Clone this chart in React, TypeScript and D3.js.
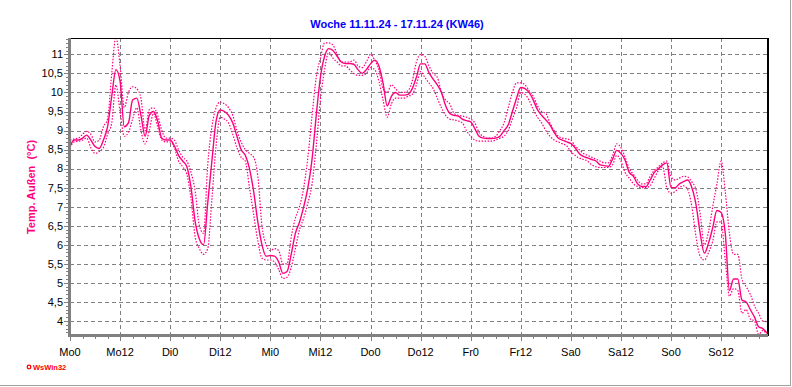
import React from 'react';
import * as d3 from 'd3';

const W = 792;
const H = 387;
const M = { left: 70, right: 767, top: 38, bottom: 336 };
const PINK = '#ff0080';
const FONT = 'Liberation Sans, Arial, sans-serif';

const TITLE = 'Woche 11.11.24 - 17.11.24 (KW46)';
const Y_LABEL = 'Temp. Außen  (°C)';

// Beschriftung der x-Achse, alle 12 Stunden
const X_LABELS = ['Mo0', 'Mo12', 'Di0', 'Di12', 'Mi0', 'Mi12', 'Do0', 'Do12', 'Fr0', 'Fr12', 'Sa0', 'Sa12', 'So0', 'So12'];
const Y_TICKS = [4, 4.5, 5, 5.5, 6, 6.5, 7, 7.5, 8, 8.5, 9, 9.5, 10, 10.5, 11];

// Stundenwerte Mo 0 Uhr bis So 23 Uhr (12 Werte je Zeile)
const TEMP = [
  8.58, 8.75, 8.75, 8.8, 8.88, 8.75, 8.58, 8.53, 8.75, 9.1, 9.9, 10.6,
  10.3, 9.1, 9.2, 9.8, 9.85, 9.4, 8.85, 9.4, 9.5, 9.25, 8.8, 8.75,
  8.75, 8.6, 8.35, 8.2, 8.05, 7.5, 6.6, 6.15, 6.0, 7.1, 8.2, 9.25,
  9.54, 9.5, 9.4, 9.2, 8.85, 8.5, 8.35, 8.0, 7.4, 6.6, 6.0, 5.7,
  5.72, 5.7, 5.55, 5.25, 5.3, 5.75, 6.3, 6.6, 7.0, 7.5, 8.25, 9.4,
  10.4, 10.95, 11.15, 11.1, 10.95, 10.8, 10.76, 10.76, 10.74, 10.6, 10.5, 10.6,
  10.75, 10.85, 10.7, 10.25, 9.65, 9.9, 10.0, 9.93, 9.93, 9.95, 10.1, 10.4,
  10.75, 10.75, 10.52, 10.35, 10.2, 10.0, 9.65, 9.45, 9.4, 9.38, 9.3, 9.26,
  9.23, 9.05, 8.85, 8.8, 8.79, 8.79, 8.8, 8.85, 9.0, 9.15, 9.5, 9.85,
  10.13, 10.1, 10.0, 9.8, 9.55, 9.4, 9.28, 9.15, 8.95, 8.8, 8.75, 8.7,
  8.66, 8.55, 8.4, 8.32, 8.28, 8.24, 8.2, 8.1, 8.08, 8.06, 8.25, 8.48,
  8.4, 8.22, 7.9, 7.8, 7.6, 7.53, 7.53, 7.7, 7.9, 8.0, 8.1, 8.15,
  7.5, 7.5, 7.6, 7.66, 7.7, 7.5, 7.05, 6.3, 5.78, 6.05, 6.45, 6.9,
  6.85, 6.3, 4.8, 5.1, 5.1, 4.55, 4.5, 4.3, 4.1, 3.85, 3.8, 3.68,
];

const TEMP_MAX = [
  8.75, 8.78, 8.8, 8.9, 8.98, 8.9, 8.7, 8.75, 9.1, 9.3, 10.5, 11.45,
  10.7, 9.6, 10.0, 10.15, 10.1, 9.85, 9.0, 9.55, 9.6, 9.4, 9.0, 8.8,
  8.8, 8.75, 8.5, 8.3, 8.2, 7.9, 7.4, 6.5, 6.3, 8.1, 9.1, 9.6,
  9.75, 9.7, 9.6, 9.4, 9.0, 8.7, 8.5, 8.4, 8.3, 7.8, 6.5, 6.0,
  5.85, 5.9, 5.85, 5.5, 5.5, 6.2, 6.7, 7.0, 7.5, 8.3, 9.4, 10.4,
  10.9, 11.3, 11.3, 11.25, 11.0, 10.8, 10.8, 10.8, 10.85, 10.7, 10.65, 10.8,
  11.0, 10.85, 10.6, 10.1, 10.0, 10.2, 10.1, 10.0, 10.0, 10.05, 10.3, 10.8,
  11.0, 10.95, 10.7, 10.5, 10.4, 10.0, 9.8, 9.7, 9.45, 9.4, 9.38, 9.35,
  9.3, 9.2, 8.95, 8.85, 8.8, 8.8, 8.85, 9.0, 9.2, 9.6, 10.0, 10.25,
  10.25, 10.2, 10.05, 9.9, 9.65, 9.5, 9.45, 9.2, 9.0, 8.85, 8.8, 8.78,
  8.75, 8.6, 8.5, 8.4, 8.35, 8.3, 8.25, 8.2, 8.15, 8.15, 8.35, 8.65,
  8.55, 8.3, 8.0, 7.85, 7.7, 7.6, 7.6, 7.8, 7.95, 8.05, 8.15, 8.2,
  7.8, 7.7, 7.75, 7.8, 7.78, 7.65, 7.45, 6.8, 6.0, 6.35, 7.0, 7.6,
  8.2, 7.4, 6.3, 5.75, 5.75, 5.1, 4.9, 4.7, 4.4, 4.2, 4.0, 3.98,
];

const TEMP_MIN = [
  8.55, 8.7, 8.72, 8.75, 8.8, 8.55, 8.4, 8.45, 8.55, 8.9, 9.2, 10.2,
  9.5, 8.85, 8.95, 9.3, 9.6, 9.0, 8.65, 9.0, 9.45, 9.1, 8.75, 8.7,
  8.7, 8.55, 8.2, 8.05, 7.85, 7.2, 6.2, 5.9, 5.75, 5.9, 7.2, 8.6,
  9.35, 9.3, 9.2, 8.9, 8.55, 8.3, 8.2, 7.5, 6.8, 6.1, 5.65, 5.6,
  5.6, 5.55, 5.35, 5.12, 5.15, 5.4, 5.9, 6.4, 6.7, 7.1, 7.6, 8.6,
  9.8, 10.6, 11.05, 10.9, 10.8, 10.7, 10.7, 10.6, 10.5, 10.45, 10.45, 10.5,
  10.65, 10.6, 10.3, 9.8, 9.35, 9.7, 9.85, 9.85, 9.85, 9.9, 9.95, 10.2,
  10.55, 10.4, 10.25, 10.1, 9.85, 9.6, 9.4, 9.3, 9.28, 9.25, 9.2, 9.0,
  8.85, 8.75, 8.72, 8.72, 8.72, 8.72, 8.75, 8.8, 8.85, 9.0, 9.3, 9.6,
  10.0, 9.95, 9.8, 9.55, 9.35, 9.2, 9.0, 8.85, 8.75, 8.7, 8.65, 8.6,
  8.45, 8.35, 8.28, 8.24, 8.2, 8.1, 8.05, 8.03, 8.03, 8.03, 8.1, 8.35,
  8.2, 7.9, 7.75, 7.6, 7.53, 7.5, 7.5, 7.55, 7.75, 7.95, 8.05, 7.5,
  7.35, 7.4, 7.5, 7.55, 7.45, 7.0, 6.2, 5.7, 5.6, 5.8, 6.1, 6.6,
  6.6, 5.6, 4.65, 4.85, 4.8, 4.2, 4.3, 4.05, 4.0, 3.65, 3.75, 3.62,
];

const fmt = (v: number) => String(v).replace('.', ',');

const Chart = () => {
  const x = d3.scaleLinear().domain([0, TEMP.length - 1]).range([M.left, M.right]);
  const y = d3.scaleLinear().domain([3.605, 11.43]).range([M.bottom, M.top]);

  const line = d3
    .line<number>()
    .x((_, i) => x(i))
    .y((d) => y(d))
    .curve(d3.curveMonotoneX);

  const px = (v: number) => Math.round(v) + 0.5;
  const majorX = X_LABELS.map((_, i) => i * 12);
  const minorX = d3.range(0, TEMP.length, 3).filter((h) => h % 12 !== 0);
  const minorY = d3.range(37, 115).map((v) => v / 10);

  return (
    <svg width={W} height={H} style={{ position: 'absolute', left: 0, top: 0, background: '#fff' }}>
      <defs>
        <clipPath id="plot">
          <rect x={M.left} y={M.top} width={M.right - M.left} height={M.bottom - M.top} />
        </clipPath>
      </defs>

      {/* Rahmen des Fensters */}
      <line x1={790.5} x2={790.5} y1={0} y2={386} stroke="#a0a0a0" />
      <line x1={0} x2={791} y1={385.5} y2={385.5} stroke="#a0a0a0" />

      <text x={397} y={28} textAnchor="middle" fontFamily={FONT} fontSize={11} fontWeight="bold" fill="#0000ff">
        {TITLE}
      </text>

      {/* Gitter */}
      <g stroke="#808080" strokeDasharray="4,3" shapeRendering="crispEdges">
        {Y_TICKS.map((t) => (
          <line key={t} x1={M.left} x2={M.right} y1={px(y(t))} y2={px(y(t))} />
        ))}
        {majorX.slice(1).map((h) => (
          <line key={h} x1={px(x(h))} x2={px(x(h))} y1={M.top} y2={M.bottom} />
        ))}
      </g>

      {/* Kurven */}
      <g clipPath="url(#plot)" fill="none" stroke={PINK}>
        <path d={line(TEMP_MAX) ?? ''} strokeWidth={1.2} strokeDasharray="1.5,1.5" />
        <path d={line(TEMP_MIN) ?? ''} strokeWidth={1.2} strokeDasharray="1.5,1.5" />
        <path d={line(TEMP) ?? ''} strokeWidth={1.4} />
      </g>

      {/* Achsen */}
      <g shapeRendering="crispEdges">
        <line x1={M.left} x2={M.right + 1} y1={M.top + 0.5} y2={M.top + 0.5} stroke="#000" />
        <line x1={M.right + 0.5} x2={M.right + 0.5} y1={M.top} y2={M.bottom} stroke="#000" strokeWidth={2} />
        <line x1={M.left - 1} x2={M.left - 1} y1={M.top} y2={M.bottom + 1} stroke="#808080" strokeWidth={3} />
        <line x1={M.left - 2} x2={M.right + 1} y1={M.bottom - 0.5} y2={M.bottom - 0.5} stroke="#808080" strokeWidth={3} />
        {minorY.map((v) => (
          <line key={v} x1={M.left - 4} x2={M.left} y1={px(y(v))} y2={px(y(v))} stroke="#808080" />
        ))}
        {Y_TICKS.map((t) => (
          <line key={t} x1={M.left - 6} x2={M.left} y1={px(y(t))} y2={px(y(t))} stroke="#808080" />
        ))}
        {minorX.map((h) => (
          <line key={h} x1={px(x(h))} x2={px(x(h))} y1={M.bottom} y2={M.bottom + 3} stroke="#808080" />
        ))}
        {majorX.map((h) => (
          <line key={h} x1={px(x(h))} x2={px(x(h))} y1={M.bottom} y2={M.bottom + 5} stroke="#808080" />
        ))}
      </g>

      <g fontFamily={FONT} fontSize={11} fill="#000">
        {Y_TICKS.map((t) => (
          <text key={t} x={63} y={y(t)} dy="0.35em" textAnchor="end">
            {fmt(t)}
          </text>
        ))}
        {X_LABELS.map((lab, i) => (
          <text key={lab} x={x(majorX[i])} y={356} textAnchor="middle">
            {lab}
          </text>
        ))}
      </g>

      <text
        transform="translate(35,187) rotate(-90)"
        textAnchor="middle"
        fontFamily={FONT}
        fontSize={11}
        fontWeight="bold"
        fill={PINK}
        style={{ whiteSpace: 'pre' }}
      >
        {Y_LABEL}
      </text>

      {/* Logo */}
      <circle cx={29} cy={367} r={1.8} fill="none" stroke="#ff0000" strokeWidth={1.3} />
      <text x={33} y={370} fontFamily={FONT} fontSize={7.5} fontWeight="bold" fill="#ff0000">
        WsWin32
      </text>
    </svg>
  );
};

export default function App() {
  return <Chart />;
}
